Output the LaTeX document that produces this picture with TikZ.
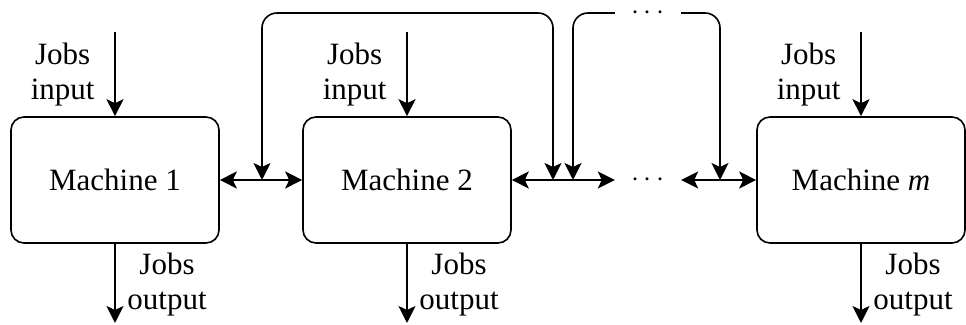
\documentclass[tikz,border=0pt]{standalone}
\usepackage{fontspec}
\setmainfont{Liberation Serif}
\usepackage{tikz}
\usetikzlibrary{arrows.meta}
\usetikzlibrary{positioning}
\tikzstyle{machine} = [draw, line width = .8pt, rounded corners = 6.5pt, minimum width = 104pt, minimum height = 63pt, font = \fontsize{15.5pt}{17.5pt}\selectfont]
\tikzstyle{flow tip} = [>={Stealth[length = 8.5pt, width = 8.5pt, inset = 2pt]}]
\tikzstyle{flow} = [line width = .8pt, flow tip, ->]
\tikzstyle{link} = [line width = .8pt, flow tip, <->]
\tikzstyle{feedback} = [link, rounded corners = 7.5pt]
\tikzstyle{jobs label} = [align = center, inner sep = 0pt, font = \fontsize{15.5pt}{17.5pt}\selectfont]
\tikzstyle{dots} = [inner xsep = 8pt, inner ysep = 0pt, font = \fontsize{15.5pt}{17.5pt}\selectfont]
\tikzstyle{diagram picture} = [x = .5pt, y = -.5pt]
\begin{document}
\begin{tikzpicture}[diagram picture]
            \useasboundingbox (0, 0) rectangle (966, 325);
            \foreach \i/\x/\name in {1/115/Machine 1, 2/407/Machine 2, m/861/Machine \textit{m}}
            {
                \node [machine] (m\i) at (\x, 180) {\name};
                \coordinate (in\i) at (\x, 32);
                \coordinate (out\i) at (\x, 323);
                \coordinate (inmid\i) at (\x, 75);
                \coordinate (outmid\i) at (\x, 285);
                \draw [flow] (in\i) -- (m\i);
                \draw [flow] (m\i) -- (out\i);
                \node [jobs label, left = 10pt of inmid\i] (inlabel\i) {Jobs\\input};
                \node [jobs label, right = 6pt of outmid\i] (outlabel\i) {Jobs\\output};
            }
            \node [dots] (dmid) at (648, 180) {$\cdots$};
            \node [dots] (dtop) at (648, 13) {$\cdots$};
            \coordinate (f1) at (262, 180);
            \coordinate (f2) at (553, 180);
            \coordinate (f3) at (573, 180);
            \coordinate (f4) at (720, 180);
            \draw [link] (m1) -- (m2);
            \draw [link] (m2) -- (dmid);
            \draw [link] (dmid) -- (mm);
            \draw [feedback] (f1) |- (f2 |- dtop) -- (f2);
            \draw [feedback, <-] (f3) |- (dtop.west);
            \draw [feedback, ->] (dtop.east) -| (f4);
        \end{tikzpicture}
\end{document}
